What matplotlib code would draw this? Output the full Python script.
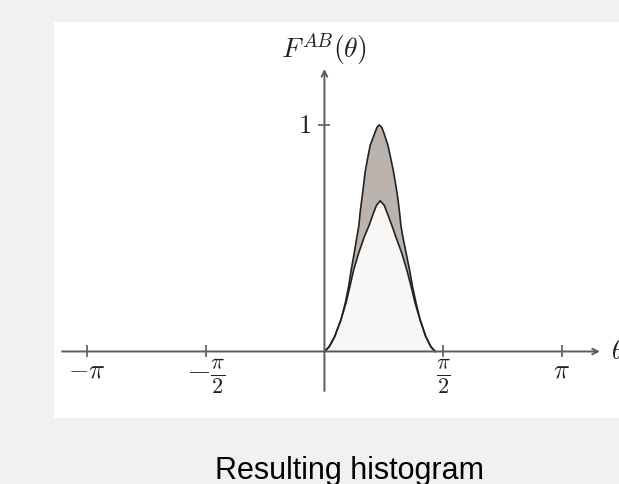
import numpy as np
import matplotlib.pyplot as plt
from matplotlib.patches import Rectangle

plt.rcParams['mathtext.fontset'] = 'cm'

# curve values (theta in rad, F)
upper_x = [0, 0.062, 0.134, 0.217, 0.274, 0.319, 0.353, 0.393, 0.429, 0.455, 0.472,
           0.495, 0.517, 0.538, 0.570, 0.605, 0.671, 0.697, 0.724, 0.755, 0.782,
           0.839, 0.878, 0.914, 0.944, 0.971, 0.993, 1.011, 1.037, 1.081, 1.126,
           1.165, 1.213, 1.266, 1.341, 1.407, 1.464]
upper_y = [0, 0.021, 0.065, 0.139, 0.212, 0.286, 0.359, 0.433, 0.506, 0.556, 0.615,
           0.674, 0.733, 0.792, 0.851, 0.910, 0.969, 0.991, 1.0, 0.991, 0.969,
           0.910, 0.851, 0.792, 0.733, 0.674, 0.615, 0.556, 0.506, 0.433, 0.359,
           0.286, 0.212, 0.139, 0.065, 0.021, 0]
lower_x = [0, 0.062, 0.134, 0.217, 0.283, 0.336, 0.385, 0.451, 0.527, 0.593, 0.649,
           0.688, 0.737, 0.791, 0.829, 0.892, 0.944, 1.024, 1.090, 1.147, 1.200,
           1.266, 1.341, 1.407, 1.464]
lower_y = [0, 0.021, 0.065, 0.139, 0.212, 0.286, 0.359, 0.433, 0.506, 0.559, 0.612,
           0.645, 0.665, 0.645, 0.612, 0.556, 0.506, 0.433, 0.359, 0.286, 0.212,
           0.139, 0.065, 0.021, 0]

tick_pos = [-np.pi, -np.pi / 2, np.pi / 2, np.pi]
tick_labels = [r'$-\pi$', r'$-\frac{\pi}{2}$', r'$\frac{\pi}{2}$', r'$\pi$']
tick_sizes = [19, 23, 23, 19]

fig = plt.figure(figsize=(6.19, 4.85), dpi=100)
fig.patch.set_facecolor('#f1f1f1')

ax = fig.add_axes([0, 0, 1, 1])
ax.set_facecolor('none')
ax.set_axis_off()
ax.set_xlim(-4.292, 3.896)
ax.set_ylim(-0.585, 1.556)

# white panel behind the plot
ax.add_patch(Rectangle((0.088, 0.136), 0.95, 0.817, transform=fig.transFigure,
                       facecolor='white', edgecolor='none', zorder=0, clip_on=False))

axcol = '#5a5a5a'
# lower area and band between curves
lx = np.array(lower_x)
ux = np.array(upper_x)
ax.fill(lx, lower_y, color='#f8f7f6', zorder=2, lw=0)
ax.fill(np.concatenate([ux, lx[::-1]]), np.concatenate([upper_y, lower_y[::-1]]),
        color='#bab3ae', zorder=2, lw=0)
ax.plot(upper_x, upper_y, color='#222222', lw=1.2, zorder=3)
ax.plot(lower_x, lower_y, color='#222222', lw=1.2, zorder=3)

# axes with arrows
ax.annotate('', xy=(3.644, 0), xytext=(-3.47, 0),
            arrowprops=dict(arrowstyle='->', color=axcol, lw=1.4, shrinkA=0, shrinkB=0), zorder=4)
ax.annotate('', xy=(0, 1.247), xytext=(0, -0.174),
            arrowprops=dict(arrowstyle='->', color=axcol, lw=1.4, shrinkA=0, shrinkB=0), zorder=4)

ax.plot(tick_pos, [0] * 4, ls='none', marker='|', ms=8, mew=1.2, color=axcol, zorder=4)
ax.plot([0], [1], ls='none', marker='_', ms=8, mew=1.2, color=axcol, zorder=4)

for p, lab, fs in zip(tick_pos, tick_labels, tick_sizes):
    ax.text(p, -0.024, lab, ha='center', va='top', fontsize=fs, color='#222222')
ax.text(-0.18, 1, r'$1$', ha='right', va='center', fontsize=19, color='#222222')
ax.text(3.79, 0, r'$\theta$', ha='left', va='center', fontsize=19, color='#222222')
ax.text(0, 1.34, r'$F^{AB}(\theta)$', ha='center', va='center', fontsize=20, color='#222222')

fig.text(0.564, 0.0124, 'Resulting histogram', ha='center', va='baseline',
         fontsize=22, family='Liberation Sans', color='black')

plt.savefig('out.png', dpi=100, facecolor=fig.get_facecolor())
